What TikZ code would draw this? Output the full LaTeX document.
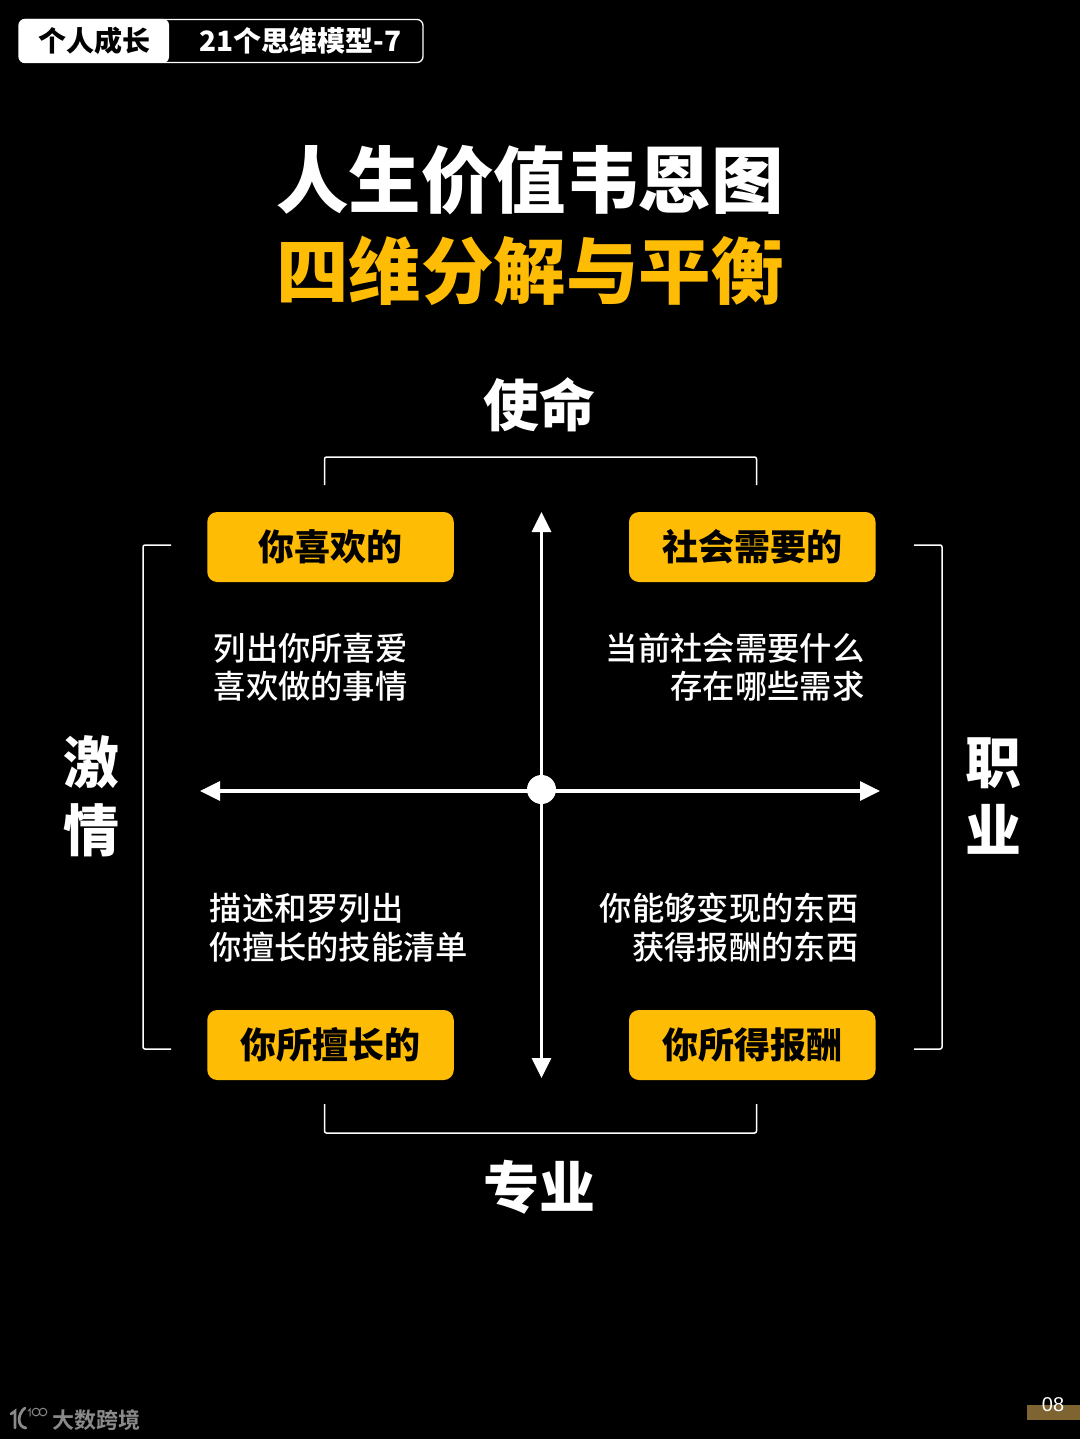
\documentclass[tikz,border=0pt]{standalone}
\usepackage{fontspec}
\setmainfont{Liberation Sans}
\newfontfamily\cjk{Noto Sans CJK SC Medium}[BoldFont={Noto Sans CJK SC Black}]
\newfontfamily\cjkb{Noto Sans CJK SC Black}
\newfontfamily\cjkc{Noto Sans CJK SC Bold}
\usetikzlibrary{arrows.meta}
\definecolor{gold}{HTML}{FFBC05}
\definecolor{barcol}{HTML}{7D6430}
\definecolor{wm}{HTML}{8A8A8A}
\tikzset{
  txt/.style={inner sep=0pt,text=white,font=\cjk\fontsize{32.3}{38.5}\selectfont,align=left},
  txtr/.style={txt,align=right},
  pill/.style={fill=gold,rounded corners=10pt,minimum width=246.5pt,minimum height=70pt,inner sep=0pt,text=black,font=\cjkb\fontsize{36}{40}\selectfont},
  dim/.style={inner sep=0pt,text=white,font=\cjkb\fontsize{56}{68}\selectfont,align=center},
  title/.style={inner sep=0pt,font=\cjkb\fontsize{72.5}{80}\selectfont},
  brk/.style={draw=white,line width=1.5pt,rounded corners=2pt},
  axis/.style={draw=white,line width=3.2pt,{Triangle[length=20pt,width=19pt]}-{Triangle[length=20pt,width=19pt]}},
  wmline/.style={draw=wm,line cap=round}
}
\begin{document}
\begin{tikzpicture}[x=1pt,y=-1pt]
\useasboundingbox (0,0) rectangle (1080,1439);
\fill[black] (0,0) rectangle (1080,1439);
% tab
\draw[white,line width=1.3pt,rounded corners=6pt] (19,19.5) rectangle (423,62.5);
\fill[white,rounded corners=6pt] (19,19) rectangle (169,63);
\node[inner sep=0pt,text=black,font=\cjkb\fontsize{28}{32}\selectfont] (tabA) at (94,41) {个人成长};
\node[inner sep=0pt,text=white,font=\cjkb\fontsize{28}{32}\selectfont] (tabB) at (300.5,41) {21个思维模型-7};
% title
\node[title,text=white] (t1) at (530,180) {人生价值韦恩图};
\node[title,text=gold] (t2) at (530,271) {四维分解与平衡};
% dimension labels
\node[dim] (top) at (539,405) {使命};
\node[dim] (bottom) at (539,1187) {专业};
\node[dim] (left) at (91,796) {激\\情};
\node[dim] (right) at (993,796) {职\\业};
% brackets
\draw[brk] (324.5,485) -- (324.5,457) -- (756.5,457) -- (756.5,485);
\draw[brk] (324.5,1104) -- (324.5,1133) -- (756.5,1133) -- (756.5,1104);
\draw[brk] (171,545) -- (143,545) -- (143,1049) -- (171,1049);
\draw[brk] (914,545) -- (942,545) -- (942,1049) -- (914,1049);
% axes
\coordinate (n) at (541.5,512);
\coordinate (s) at (541.5,1078);
\coordinate (w) at (200,791);
\coordinate (e) at (880,791);
\draw[axis] (n) -- (s);
\draw[axis] (w) -- (e);
\node[circle,fill=white,minimum size=29pt,inner sep=0pt] (c) at (541.5,789.5) {};
% pills
\node[pill] (a) at (330.5,547) {你喜欢的};
\node[pill] (b) at (752.25,547) {社会需要的};
\node[pill] (d) at (330.5,1045) {你所擅长的};
\node[pill] (f) at (752.25,1045) {你所得报酬};
% descriptions
\node[txt,anchor=west] (ta) at (213.5,667) {列出你所喜爱\\喜欢做的事情};
\node[txtr,anchor=east] (tb) at (864.5,667) {当前社会需要什么\\存在哪些需求};
\node[txt,anchor=west] (td) at (209.5,927.5) {描述和罗列出\\你擅长的技能清单};
\node[txtr,anchor=east] (tf) at (858.5,927.5) {你能够变现的东西\\获得报酬的东西};
% footer
\fill[barcol] (1027,1405) rectangle (1080,1420);
\node[inner sep=0pt,text=white,font=\fontsize{20}{22}\selectfont] (pg) at (1053,1405) {08};
% logo
\draw[wmline,line width=2.6pt] (11,1414) -- (15,1411) -- (15,1428);
\draw[wmline,line width=2.8pt] (25,1408) .. controls (17,1414) and (17,1427) .. (26,1428);
\draw[wmline,line width=1pt] (28,1411) -- (30,1409) -- (30,1416);
\draw[wmline,line width=1pt] (36,1412) circle (3.8pt);
\draw[wmline,line width=1pt] (43,1412) circle (3.8pt);
\node[inner sep=0pt,text=wm,font=\cjkc\fontsize{22}{24}\selectfont] (wmk) at (96,1420) {大数跨境};
\end{tikzpicture}
\end{document}
